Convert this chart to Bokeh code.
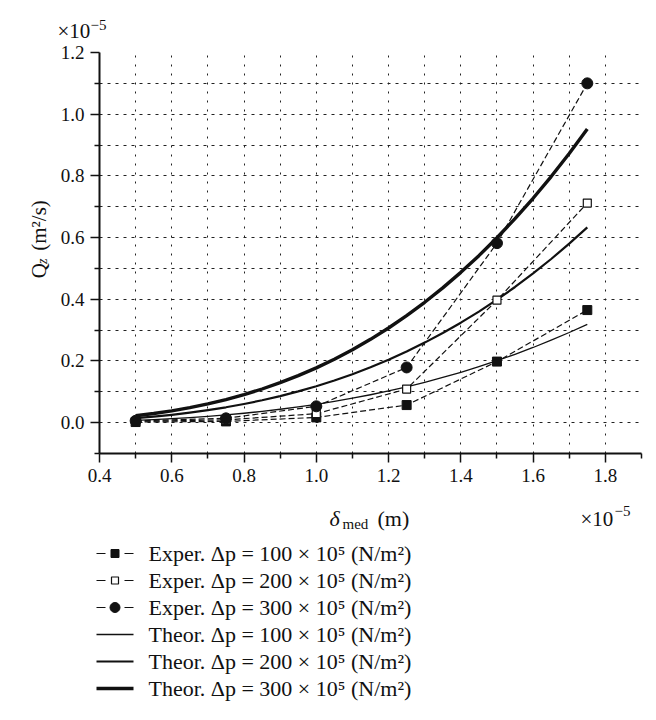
import math
from bokeh.plotting import figure
from bokeh.layouts import column, row
from bokeh.models import Range1d, FixedTicker, PrintfTickFormatter
from bokeh.core.properties import value
from bokeh.embed import file_html
from bokeh.resources import INLINE

# Gap width delta_med (x 1e-5 m) and leakage flow Q_z (x 1e-5 m^2/s)
delta_exp = [0.5, 0.75, 1.0, 1.25, 1.5, 1.75]
q_exp_100 = [0.002, 0.004, 0.017, 0.057, 0.198, 0.365]
q_exp_200 = [0.004, 0.009, 0.029, 0.109, 0.397, 0.712]
q_exp_300 = [0.006, 0.014, 0.053, 0.179, 0.582, 1.100]

delta_th = [0.5, 0.55, 0.6, 0.65, 0.7, 0.75, 0.8, 0.85, 0.9, 0.95, 1.0, 1.05, 1.1,
            1.15, 1.2, 1.25, 1.3, 1.35, 1.4, 1.45, 1.5, 1.55, 1.6, 1.65, 1.7, 1.75]
q_th_100 = [0.0074, 0.0099, 0.0129, 0.0163, 0.0204, 0.0251, 0.0305, 0.0365, 0.0434,
            0.0510, 0.0595, 0.0689, 0.0792, 0.0905, 0.1028, 0.1162, 0.1307, 0.1464,
            0.1633, 0.1814, 0.2008, 0.2216, 0.2437, 0.2673, 0.2923, 0.3189]
q_th_200 = [0.0148, 0.0197, 0.0255, 0.0324, 0.0405, 0.0498, 0.0605, 0.0725, 0.0861,
            0.1013, 0.1181, 0.1367, 0.1572, 0.1796, 0.2041, 0.2307, 0.2595, 0.2906,
            0.3241, 0.3600, 0.3986, 0.4398, 0.4837, 0.5305, 0.5802, 0.6329]
q_th_300 = [0.0222, 0.0296, 0.0384, 0.0488, 0.0609, 0.0749, 0.0909, 0.1091, 0.1295,
            0.1523, 0.1776, 0.2056, 0.2364, 0.2701, 0.3069, 0.3469, 0.3902, 0.4370,
            0.4873, 0.5414, 0.5994, 0.6614, 0.7274, 0.7978, 0.8726, 0.9518]

x_major = [0.4, 0.6, 0.8, 1.0, 1.2, 1.4, 1.6, 1.8]
x_minor = [0.5, 0.7, 0.9, 1.1, 1.3, 1.5, 1.7, 1.9]
y_major = [0.0, 0.2, 0.4, 0.6, 0.8, 1.0, 1.2]
y_minor = [-0.1, 0.1, 0.3, 0.5, 0.7, 0.9, 1.1]
x_grid = [0.5, 0.6, 0.7, 0.8, 0.9, 1.0, 1.1, 1.2, 1.3, 1.4, 1.5, 1.6, 1.7, 1.8]
y_grid = [0.0, 0.1, 0.2, 0.3, 0.4, 0.5, 0.6, 0.7, 0.8, 0.9, 1.0, 1.1]

legend_labels = [
    "Exper. Δp = 100 × 10⁵ (N/m²)",
    "Exper. Δp = 200 × 10⁵ (N/m²)",
    "Exper. Δp = 300 × 10⁵ (N/m²)",
    "Theor. Δp = 100 × 10⁵ (N/m²)",
    "Theor. Δp = 200 × 10⁵ (N/m²)",
    "Theor. Δp = 300 × 10⁵ (N/m²)",
]

SERIF = "Liberation Serif"
INK = "#111111"
W = 656
TOP_H = 40          # strip above the plot holding the y multiplier
MAIN_H = 453        # main plot (frame + tick labels)
BOT_H = 720 - TOP_H - MAIN_H
YLAB_W = 56         # strip left of the plot holding the y title

EXP_DASH = "6 3"
EXP_LW = 1.2
TH_LW = [1.3, 2.2, 3.4]

# marker styles for the three experimental series
EXP_MARKERS = [
    dict(marker="square", size=9, fill_color=INK, line_color=INK),
    dict(marker="square", size=8, fill_color="white", line_color=INK, line_width=1.2),
    dict(marker="circle", size=11, fill_color=INK, line_color=INK),
]


def blank(width, height, y_down=True):
    f = figure(width=width, height=height, output_backend="svg",
               toolbar_location=None, min_border=0,
               x_axis_location=None, y_axis_location=None,
               x_range=Range1d(0, width),
               y_range=Range1d(height, 0) if y_down else Range1d(0, height))
    f.grid.visible = False
    f.outline_line_color = None
    f.background_fill_color = "white"
    f.border_fill_color = "white"
    return f


def words(f, xs, ys, texts, size, style="normal", angle=0.0, baseline="alphabetic"):
    f.text(x=xs, y=ys, text=texts, text_font=value(SERIF),
           text_font_size=value(size), text_font_style=value(style),
           text_color=INK, text_align="left", text_baseline=baseline,
           angle=angle)


# ---- main plot -------------------------------------------------------------
p = figure(width=W - YLAB_W, height=MAIN_H, output_backend="svg",
           toolbar_location=None,
           x_range=Range1d(0.4, 1.9), y_range=Range1d(-0.1, 1.2),
           min_border_left=99 - YLAB_W, min_border_right=15,
           min_border_top=52 - TOP_H, min_border_bottom=40)
p.outline_line_color = None
p.background_fill_color = "white"
p.border_fill_color = "white"

for ax, major, minor in ((p.xaxis[0], x_major, x_minor), (p.yaxis[0], y_major, y_minor)):
    ax.ticker = FixedTicker(ticks=major, minor_ticks=minor)
    ax.formatter = PrintfTickFormatter(format="%.1f")
    ax.axis_line_width = 2
    ax.axis_line_color = INK
    ax.major_tick_line_color = INK
    ax.minor_tick_line_color = INK
    ax.major_tick_line_width = 1.5
    ax.minor_tick_line_width = 1.5
    ax.major_tick_out = 9
    ax.major_tick_in = 0
    ax.minor_tick_out = 5
    ax.minor_tick_in = 0
    ax.major_label_text_font = SERIF
    ax.major_label_text_font_size = "19px"
    ax.major_label_text_color = INK
    ax.major_label_standoff = 6

# dotted grid every 0.1
p.xgrid.ticker = FixedTicker(ticks=x_grid)
p.ygrid.ticker = FixedTicker(ticks=y_grid)
p.xgrid.grid_line_color = "#222222"
p.xgrid.grid_line_dash = "2 7"
p.xgrid.grid_line_width = 1
p.ygrid.grid_line_color = "#222222"
p.ygrid.grid_line_dash = "3 5"
p.ygrid.grid_line_width = 1

# theoretical curves
for qs, lw in zip((q_th_100, q_th_200, q_th_300), TH_LW):
    p.line(delta_th, qs, line_color=INK, line_width=lw, line_join="round")

# experimental series
for qs, mk in zip((q_exp_100, q_exp_200, q_exp_300), EXP_MARKERS):
    p.line(delta_exp, qs, line_color=INK, line_width=EXP_LW, line_dash=EXP_DASH)
    p.scatter(delta_exp, qs, **mk)

# ---- strip above: y multiplier ---------------------------------------------
top = blank(W, TOP_H)
words(top, [57], [30], ["×10"], "21px")
words(top, [90], [24], ["−5"], "15px")

# ---- strip at left: y title Q_z (m^2/s) ------------------------------------
ylab = blank(YLAB_W, MAIN_H, y_down=False)
ang = math.pi / 2
words(ylab, [38], [198], ["Q"], "21px", angle=ang)
words(ylab, [42], [214], ["z"], "14px", "italic", angle=ang)
words(ylab, [38], [229], ["(m²/s)"], "21px", angle=ang)

# ---- strip below: x title, x multiplier and legend -------------------------
bot = blank(W, BOT_H)
words(bot, [329], [25], ["δ"], "22px", "italic")
words(bot, [342], [30], ["med"], "15px")
words(bot, [377], [25], ["(m)"], "22px")
words(bot, [580], [25], ["×10"], "21px")
words(bot, [614], [17], ["−5"], "15px")

# legend: key sample + label per row
KEY_X0, KEY_X1, LABEL_X = 96, 133, 148
ROW0, ROW_STEP = 60, 27
rows_y = [ROW0 + ROW_STEP * i for i in range(len(legend_labels))]
key_mid = (KEY_X0 + KEY_X1) / 2
for i, mk in enumerate(EXP_MARKERS):
    yy = rows_y[i]
    bot.segment(x0=[KEY_X0, KEY_X1 - 9], y0=[yy, yy], x1=[KEY_X0 + 9, KEY_X1], y1=[yy, yy],
                line_color=INK, line_width=EXP_LW)
    small = dict(mk)
    small["size"] = mk["size"] - 1
    bot.scatter([key_mid], [yy], **small)
for j, lw in enumerate(TH_LW):
    yy = rows_y[3 + j]
    bot.segment(x0=[KEY_X0], y0=[yy], x1=[KEY_X1], y1=[yy], line_color=INK, line_width=lw)
words(bot, [LABEL_X] * len(legend_labels), rows_y, legend_labels, "22px", baseline="middle")

layout = column(top, row(ylab, p, spacing=0), bot, spacing=0)
open("out.html", "w").write(file_html(layout, INLINE))
